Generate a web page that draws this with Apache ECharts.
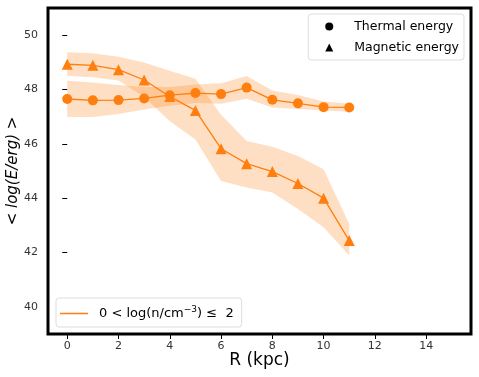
<!DOCTYPE html>
<html><head><meta charset="utf-8">
<script src="https://cdn.jsdelivr.net/npm/echarts@6/dist/echarts.min.js"></script>
<style>html,body{margin:0;padding:0;background:#fff}#c{width:479px;height:377px}</style>
</head><body><div id="c"></div>
<script>
const radius = [0,1,2,3,4,5,6,7,8,9,10,11];
const thermal = [47.65,47.60,47.61,47.67,47.79,47.87,47.83,48.07,47.62,47.49,47.35,47.34];
const thermalUpper = [48.32,48.26,48.17,48.09,48.09,48.18,48.23,48.50,47.96,47.80,47.56,47.48];
const thermalLower = [46.99,46.99,47.10,47.26,47.40,47.50,47.48,47.66,47.34,47.28,47.23,47.18];
const magnetic = [48.93,48.89,48.73,48.35,47.74,47.23,45.82,45.27,44.98,44.54,44.00,42.44];
const magneticUpper = [49.37,49.33,49.21,48.99,48.69,48.40,47.07,46.10,45.89,45.55,45.06,43.05];
const magneticLower = [48.50,48.45,48.33,47.72,46.83,46.16,44.63,44.39,44.21,43.60,42.93,41.89];
const xTicks = [0,2,4,6,8,10,12,14];
const yTicks = [40,42,44,46,48,50];

const ORANGE = '#ff7f0e';
const densName = 'dens';

function band(upper, lower) {
  return {
    type: 'custom', silent: true, z: 1,
    data: [0],
    renderItem: function (params, api) {
      const pts = [];
      for (let i = 0; i < radius.length; i++) pts.push(api.coord([radius[i], upper[i]]));
      for (let i = radius.length - 1; i >= 0; i--) pts.push(api.coord([radius[i], lower[i]]));
      return { type: 'polygon', shape: { points: pts }, style: { fill: 'rgba(255,127,14,0.25)', stroke: null } };
    }
  };
}
function pairs(ys) { return radius.map((x, i) => [x, ys[i]]); }

const chart = echarts.init(document.getElementById('c'), null, { renderer: 'canvas' });
chart.setOption({
  animation: false,
  textStyle: { fontFamily: 'DejaVu Sans' },
  grid: { left: 48, right: 8, top: 8, bottom: 43, outerBoundsMode: 'none', containLabel: false,
          show: true, borderColor: '#000', borderWidth: 3, backgroundColor: 'transparent' },
  xAxis: {
    type: 'value', min: -0.75, max: 15.75,
    name: 'R (kpc)', nameLocation: 'middle', nameGap: 18, nameMoveOverlap: false,
    nameTextStyle: { fontSize: 17, color: '#000', fontFamily: 'DejaVu Sans' },
    axisLine: { show: false },
    splitLine: { show: false },
    axisTick: { show: true, customValues: xTicks, length: 5, lineStyle: { color: '#000' } },
    axisLabel: { customValues: xTicks, fontSize: 11, color: '#333', margin: 7 }
  },
  yAxis: {
    type: 'value', min: 39, max: 51,
    name: '< log(E/erg) >', nameLocation: 'middle', nameGap: 27, nameRotate: 90, nameMoveOverlap: false,
    nameTextStyle: { fontSize: 15, color: '#000', fontStyle: 'italic', fontFamily: 'DejaVu Sans' },
    axisLine: { show: false },
    splitLine: { show: false },
    axisTick: { show: true, customValues: yTicks, length: 5, lineStyle: { color: '#000' } },
    axisLabel: { customValues: yTicks, fontSize: 11, color: '#333', margin: 10 }
  },
  legend: [
    {
      data: [{ name: 'Thermal energy', icon: 'circle' }, { name: 'Magnetic energy', icon: 'triangle' }],
      right: 15, top: 14, orient: 'vertical', itemGap: 8, itemWidth: 8, itemHeight: 8,
      padding: [6, 5, 6, 17],
      borderColor: '#ddd', borderWidth: 1, borderRadius: 3, backgroundColor: '#fff',
      textStyle: { fontSize: 12.5, color: '#000', padding: [0, 0, 0, 16] }
    },
    {
      data: [{ name: densName, icon: 'rect' }],
      left: 56, bottom: 50, itemWidth: 28, itemHeight: 1.5,
      padding: [7, 8, 7, 4],
      borderColor: '#ddd', borderWidth: 1, borderRadius: 3, backgroundColor: '#fff',
      formatter: function () { return '0 < log(n/cm{sup|−3}) ≤  2'; },
      textStyle: { fontSize: 13, color: '#000', padding: [0, 0, 0, 6], rich: { sup: { fontSize: 9, verticalAlign: 'top', padding: [0, 0, 8, 0], color: '#000' } } }
    }
  ],
  series: [
    band(thermalUpper, thermalLower),
    band(magneticUpper, magneticLower),
    { name: 'thermal', type: 'line', data: pairs(thermal), symbol: 'circle', symbolSize: 10, z: 3,
      itemStyle: { color: ORANGE }, lineStyle: { color: ORANGE, width: 1.3 } },
    { name: 'magnetic', type: 'line', data: pairs(magnetic), symbol: 'triangle', symbolSize: 11, z: 3,
      itemStyle: { color: ORANGE }, lineStyle: { color: ORANGE, width: 1.3 } },
    { name: 'Thermal energy', type: 'line', data: [], itemStyle: { color: '#000' } },
    { name: 'Magnetic energy', type: 'line', data: [], itemStyle: { color: '#000' } },
    { name: densName, type: 'line', data: [], symbol: 'none', itemStyle: { color: ORANGE }, lineStyle: { color: ORANGE } }
  ]
});
</script></body></html>
